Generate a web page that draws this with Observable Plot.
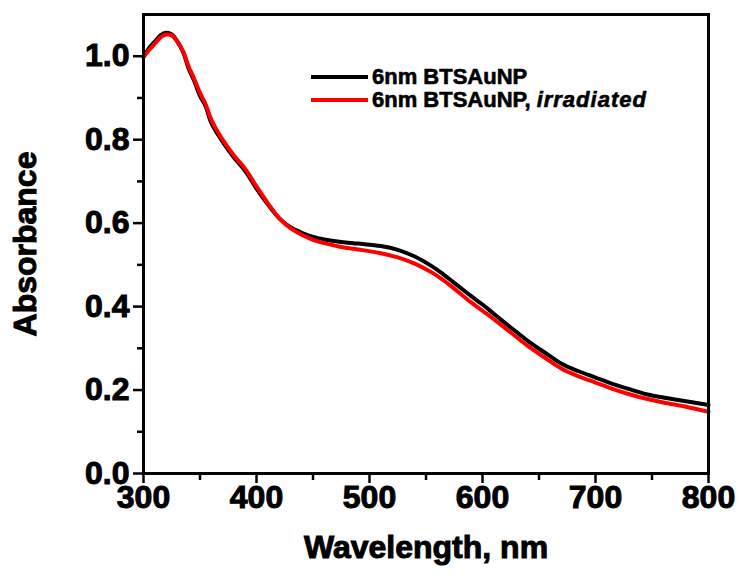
<!DOCTYPE html>
<html>
<head>
<meta charset="utf-8">
<script src="https://cdn.jsdelivr.net/npm/d3@7"></script>
<script src="https://cdn.jsdelivr.net/npm/@observablehq/plot@0.6"></script>
<style>
  html, body { margin: 0; padding: 0; background: #fff; }
  #wrap { position: relative; width: 740px; height: 578px; font-family: "Liberation Sans", Arial, sans-serif; }
  #wrap svg text { stroke: #000; stroke-width: 1px; paint-order: stroke; }
  .leg { position: absolute; left: 311px; font-weight: bold; font-size: 22px; color: #000; display: flex; align-items: center; white-space: nowrap; -webkit-text-stroke: 0.6px #000; }
  .leg .sw { width: 57px; height: 4px; margin-right: 4px; }
  .leg i { letter-spacing: 1px; }
</style>
</head>
<body>
<div id="wrap"></div>
<script>
// Wavelength (nm) and absorbance values
const wavelength = [300,305,310,315,320,325,330,335,340,345,350,355,360,370,380,390,400,410,420,430,440,450,460,475,490,510,525,540,555,565,575,590,600,610,625,640,655,670,685,700,715,730,745,760,780,800];
const absPristine = [0.998,1.02,1.035,1.05,1.056,1.052,1.035,1.01,0.97,0.94,0.905,0.88,0.84,0.795,0.757,0.725,0.683,0.645,0.612,0.59,0.577,0.567,0.561,0.555,0.551,0.545,0.536,0.52,0.497,0.478,0.457,0.425,0.405,0.383,0.35,0.318,0.29,0.263,0.245,0.23,0.215,0.202,0.19,0.182,0.173,0.164];
const absIrradiated = [0.998,1.015,1.03,1.045,1.052,1.05,1.035,1.012,0.975,0.945,0.912,0.885,0.848,0.8,0.762,0.73,0.688,0.648,0.612,0.588,0.572,0.56,0.552,0.543,0.537,0.528,0.518,0.503,0.482,0.464,0.443,0.41,0.39,0.37,0.338,0.306,0.278,0.251,0.233,0.218,0.203,0.19,0.179,0.17,0.16,0.148];
const seriesNames = ["6nm BTSAuNP", "6nm BTSAuNP, irradiated"];
const seriesColors = ["#000000", "#ff0000"];
const xMajor = [300,400,500,600,700,800];
const xMinor = [350,450,550,650,750];
const yMajor = [0.0,0.2,0.4,0.6,0.8,1.0];
const yMinor = [0.1,0.3,0.5,0.7,0.9];

const data = [];
wavelength.forEach((w, i) => {
  data.push({series: seriesNames[0], w, a: absPristine[i]});
});
wavelength.forEach((w, i) => {
  data.push({series: seriesNames[1], w, a: absIrradiated[i]});
});

const plot = Plot.plot({
  width: 740,
  height: 578,
  marginLeft: 143,
  marginRight: 32,
  marginTop: 14,
  marginBottom: 105,
  style: {fontFamily: "'Liberation Sans', Arial, sans-serif", fontWeight: "bold", background: "white", color: "black"},
  x: {domain: [300, 800]},
  y: {domain: [0, 1.1]},
  color: {domain: seriesNames, range: seriesColors},
  marks: [
    Plot.line(data, {x: "w", y: "a", z: "series", stroke: "series", strokeWidth: 4, curve: "catmull-rom"}),
    Plot.frame({stroke: "black", strokeWidth: 3}),
    Plot.axisX(xMajor, {tickSize: 10, tickPadding: 2, fontSize: 32, strokeWidth: 2.5, tickFormat: d3.format("d"),
      label: "Wavelength, nm", labelAnchor: "center", labelOffset: 84, labelArrow: "none"}),
    Plot.axisX(xMinor, {tickSize: 7, strokeWidth: 2.5, tickFormat: () => "", label: null}),
    Plot.axisY(yMajor, {tickSize: 10, tickPadding: 4, fontSize: 32, strokeWidth: 2.5, tickFormat: d3.format(".1f"),
      label: "Absorbance", labelAnchor: "center", labelOffset: 130, labelArrow: "none"}),
    Plot.axisY(yMinor, {tickSize: 6, strokeWidth: 2.5, tickFormat: () => "", label: null})
  ]
});
const wrap = document.getElementById("wrap");
wrap.appendChild(plot);

// legend overlay
const legendTops = [64, 87];
seriesNames.forEach((name, i) => {
  const row = document.createElement("div");
  row.className = "leg";
  row.style.top = legendTops[i] + "px";
  const sw = document.createElement("span");
  sw.className = "sw";
  sw.style.background = seriesColors[i];
  row.appendChild(sw);
  const t = document.createElement("span");
  if (name.includes(", irradiated")) {
    t.innerHTML = name.replace("irradiated", "<i>irradiated</i>");
  } else {
    t.textContent = name;
  }
  row.appendChild(t);
  wrap.appendChild(row);
});
</script>
</body>
</html>
